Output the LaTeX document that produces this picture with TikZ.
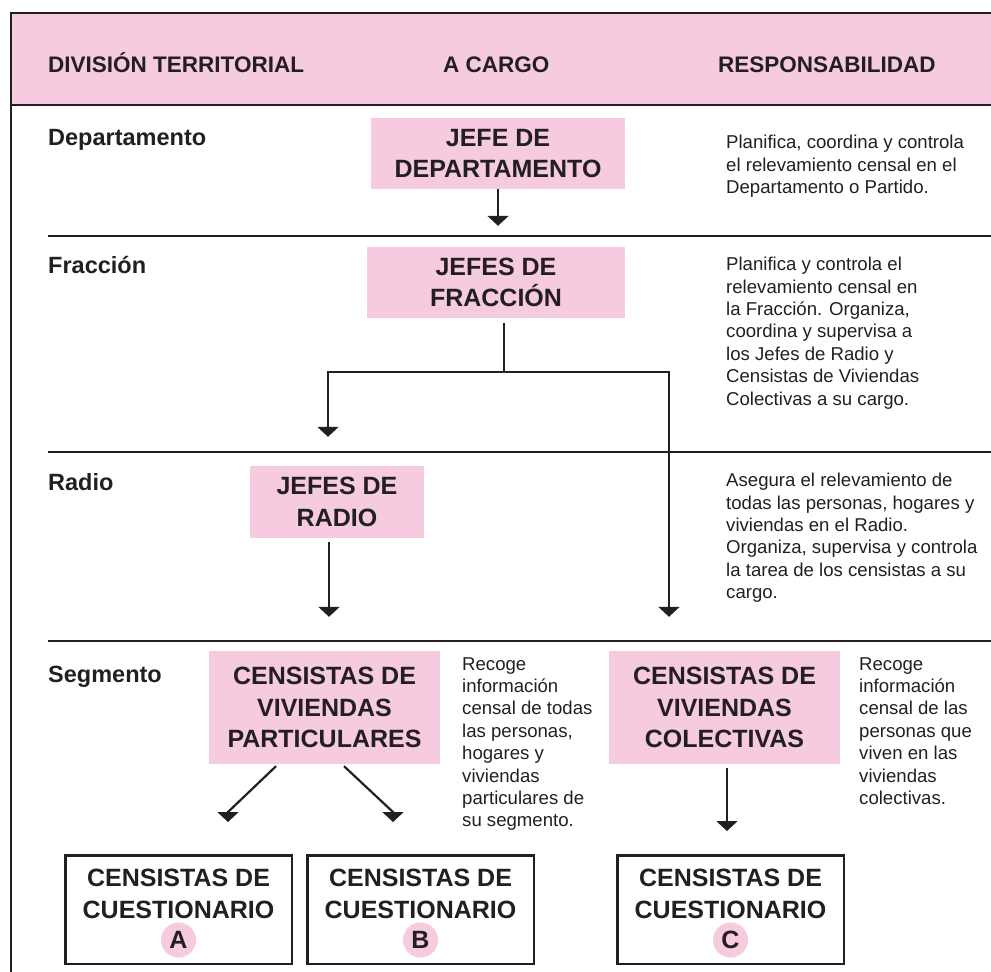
\documentclass[tikz,border=0pt]{standalone}
\usepackage{fontspec}
\setmainfont{Liberation Sans}
\usepackage{tikz}
\usetikzlibrary{arrows.meta,calc}
\definecolor{rosa}{RGB}{246,202,223}
\definecolor{tinta}{RGB}{35,31,32}
\tikzset{
  caja/.style={fill=rosa, inner sep=0pt, align=center, font=\bfseries\fontsize{25}{31.7}\selectfont},
  cuest/.style={draw=tinta, line width=2.5pt, inner sep=0pt, align=center, minimum width=226.5pt, minimum height=108.5pt, font=\bfseries\fontsize{25}{31.7}\selectfont},
  letra/.style={circle, fill=rosa, minimum size=35pt, inner sep=0pt, font=\bfseries\fontsize{25}{30}\selectfont},
  nivel/.style={anchor=base west, inner sep=0pt, font=\bfseries\fontsize{23.5}{28}\selectfont},
  titulo/.style={anchor=base west, inner sep=0pt, font=\bfseries\fontsize{22.5}{27}\selectfont},
  texto/.style={anchor=north west, inner sep=0pt, align=left, font=\fontsize{18.6}{22.4}\selectfont},
  linea/.style={draw=tinta, line width=2.2pt},
  borde/.style={draw=tinta, line width=2.5pt},
  flecha/.style={linea, -{Triangle[width=21pt,length=10pt]}}
}
\begin{document}
\begin{tikzpicture}[x=1pt, y=-1pt, text=tinta]
\useasboundingbox (0,0) rectangle (991,972);
\fill[rosa] (11,13) rectangle (991,105);
\draw[borde] (11,972) -- (11,13) -- (991,13);
\draw[borde] (11,105) -- (991,105);
\foreach \y in {236,452,641}
  \draw[borde] (48,\y) -- (991,\y);

\node[titulo] (tdiv) at (48,72) {DIVISIÓN TERRITORIAL};
\node[titulo] (tcar) at (443,72) {A CARGO};
\node[titulo] (tres) at (718,72) {RESPONSABILIDAD};

\node[nivel] (ndep) at (48,145) {Departamento};
\node[nivel] (nfrac) at (48,273) {Fracción};
\node[nivel] (nrad) at (48,490) {Radio};
\node[nivel] (nseg) at (48,682) {Segmento};

\node[caja, minimum width=254pt, minimum height=71pt] (jdep) at (498,153.5) {JEFE DE\\DEPARTAMENTO};
\node[caja, minimum width=258pt, minimum height=71pt] (jfrac) at (496,282.5) {JEFES DE\\FRACCIÓN};
\node[caja, minimum width=174pt, minimum height=72pt] (jrad) at (337,502) {JEFES DE\\RADIO};
\node[caja, minimum width=231pt, minimum height=113pt] (cpart) at (324.5,707.5) {CENSISTAS DE\\VIVIENDAS\\PARTICULARES};
\node[caja, minimum width=231pt, minimum height=113pt] (jcol) at (724.5,707.5) {CENSISTAS DE\\VIVIENDAS\\COLECTIVAS};

\node[cuest] (cqA) at (178.5,909.5) {CENSISTAS DE\\CUESTIONARIO\\\phantom{A}};
\node[cuest] (cqB) at (420.5,909.5) {CENSISTAS DE\\CUESTIONARIO\\\phantom{B}};
\node[cuest] (cqC) at (730.5,909.5) {CENSISTAS DE\\CUESTIONARIO\\\phantom{C}};
\node[letra] (la) at ([yshift=25pt]cqA.south) {A};
\node[letra] (lb) at ([yshift=25pt]cqB.south) {B};
\node[letra] (lc) at ([yshift=25pt]cqC.south) {C};

\node[texto] (rdep) at (726,135) {Planifica, coordina y controla\\el relevamiento censal en el\\Departamento o Partido.};
\node[texto] (rfrac) at (726,257) {Planifica y controla el\\relevamiento censal en\\la Fracción. Organiza,\\coordina y supervisa a\\los Jefes de Radio y\\Censistas de Viviendas\\Colectivas a su cargo.};
\node[texto] (rrad) at (726,473) {Asegura el relevamiento de\\todas las personas, hogares y\\viviendas en el Radio.\\Organiza, supervisa y controla\\la tarea de los censistas a su\\cargo.};
\node[texto] (rpart) at (462,657) {Recoge\\información\\censal de todas\\las personas,\\hogares y\\viviendas\\particulares de\\su segmento.};
\node[texto] (rcol) at (859,657) {Recoge\\información\\censal de las\\personas que\\viven en las\\viviendas\\colectivas.};

\draw[flecha, shorten >=21pt] (jdep.south) -- (jdep.south |- jfrac.north);
\coordinate (rama) at (504,372);
\draw[linea] ([xshift=8pt,yshift=-5pt]jfrac.south) -- (rama);
\draw[flecha, shorten >=29pt] (rama) -| ([xshift=-9pt]jrad.north);
\draw[flecha, shorten >=34pt] (rama) -| ([xshift=-55.5pt]jcol.north);
\draw[flecha, shorten <=4pt, shorten >=34pt] ($(jrad.south)+(-8,0)$) -- ($(jrad.south |- cpart.north)+(-8,0)$);
\draw[flecha] ($(cpart.south)+(-48.5,2)$) -- ($(cqA.north)+(49.5,-42)$) -- ($(cqA.north)+(49.5,-32)$);
\draw[flecha] ($(cpart.south)+(19.5,2)$) -- ($(cqB.north)+(-27.5,-42)$) -- ($(cqB.north)+(-27.5,-32)$);
\draw[flecha, shorten <=4pt, shorten >=23pt] ($(jcol.south)+(2.5,0)$) -- ($(jcol.south |- cqC.north)+(2.5,0)$);
\end{tikzpicture}
\end{document}
